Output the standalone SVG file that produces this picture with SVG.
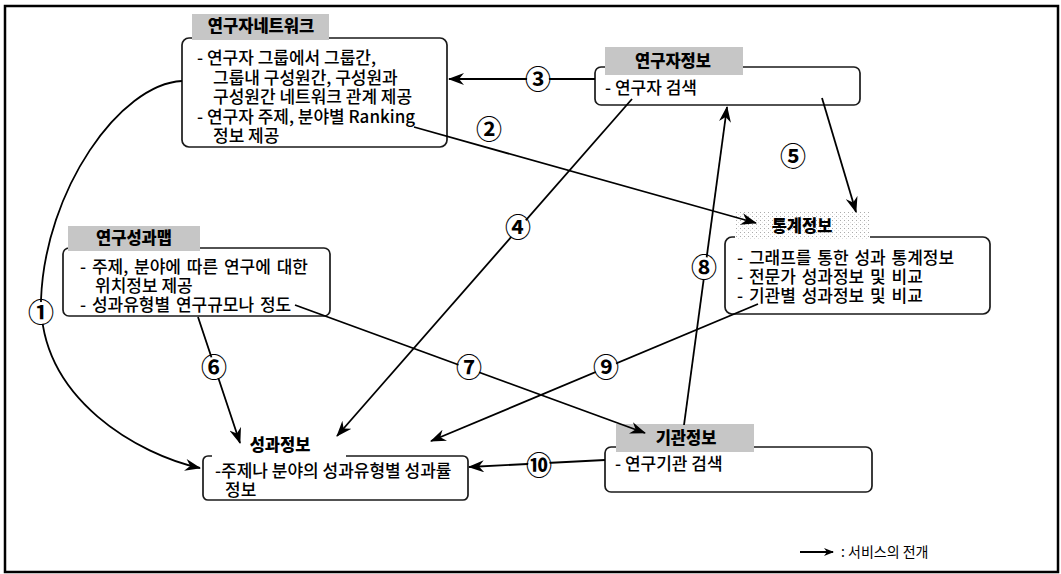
<svg xmlns="http://www.w3.org/2000/svg" width="1061" height="574" viewBox="0 0 1061 574">
<style>
.frame{fill:none;stroke:#000;stroke-width:2.5}
.box{fill:#fff;stroke:#1a1a1a;stroke-width:1.7}
.hdr{fill:#c6c6c6}
.hdr2{fill:url(#dots)}
.ht{font-family:"Noto Sans CJK KR","Noto Sans",sans-serif;font-size:16.5px;font-weight:900;text-anchor:middle;fill:#000}
.bt{font-family:"Noto Sans CJK KR","Noto Sans",sans-serif;font-size:17px;font-weight:500;fill:#000}
.lt{font-family:"Noto Sans CJK KR","Noto Sans",sans-serif;font-size:14px;fill:#000}
.con{fill:none;stroke:#000;stroke-width:1.8}
.cb{fill:#fff}
.num{font-family:"Noto Sans CJK KR","DejaVu Sans",sans-serif;font-size:26px;font-weight:bold;text-anchor:middle;fill:#000}
</style>
<defs>
<pattern id="dots" width="4" height="4" patternUnits="userSpaceOnUse"><rect width="4" height="4" fill="#fff"/><rect x="0" y="0" width="1" height="1" fill="#aaa"/><rect x="2" y="2" width="1" height="1" fill="#ddd"/></pattern>
<marker id="ah" viewBox="0 0 16 12" refX="15" refY="6" markerWidth="16" markerHeight="12" orient="auto" markerUnits="userSpaceOnUse"><path d="M0,0 L16,6 L0,12 L5,6 z" fill="#000"/></marker>
<marker id="ahs" viewBox="0 0 10 8" refX="9" refY="4" markerWidth="10" markerHeight="8" orient="auto" markerUnits="userSpaceOnUse"><path d="M0,0 L10,4 L0,8 L3,4 z" fill="#000"/></marker>
</defs>
<rect class="frame" x="5" y="6" width="1053" height="566"/>

<g id="node-network">
<rect class="box" x="182" y="38" width="265" height="109" rx="7"/>
<rect class="hdr" x="192" y="14" width="137" height="26"/>
<text class="ht" x="261" y="32">연구자네트워크</text>
<text class="bt" x="197" y="64">- 연구자 그룹에서 그룹간,</text>
<text class="bt" x="213" y="84">그룹내 구성원간, 구성원과</text>
<text class="bt" x="213" y="103">구성원간 네트워크 관계 제공</text>
<text class="bt" x="197" y="123">- 연구자 주제, 분야별 Ranking</text>
<text class="bt" x="213" y="142">정보 제공</text>
</g>

<g id="node-researcher">
<rect class="box" x="595" y="67" width="265" height="38" rx="6"/>
<rect class="hdr" x="605" y="47" width="138" height="28"/>
<text class="ht" x="673" y="67">연구자정보</text>
<text class="bt" x="605" y="94">- 연구자 검색</text>
</g>

<g id="node-stats">
<rect class="box" x="725" y="237" width="265" height="77" rx="7"/>
<rect class="hdr2" x="735" y="212" width="135" height="28"/>
<text class="ht" x="802" y="232">통계정보</text>
<text class="bt" x="737" y="264" word-spacing="2">- 그래프를 통한 성과 통계정보</text>
<text class="bt" x="737" y="283" word-spacing="2">- 전문가 성과정보 및 비교</text>
<text class="bt" x="737" y="302" word-spacing="2">- 기관별 성과정보 및 비교</text>
</g>

<g id="node-map">
<rect class="box" x="63" y="248" width="267" height="68" rx="6"/>
<rect class="hdr" x="68" y="226" width="132" height="25"/>
<text class="ht" x="134" y="244">연구성과맵</text>
<text class="bt" x="80" y="273" word-spacing="2">- 주제, 분야에 따른 연구에 대한</text>
<text class="bt" x="95" y="292">위치정보 제공</text>
<text class="bt" x="80" y="311" word-spacing="2">- 성과유형별 연구규모나 정도</text>
</g>

<g id="node-result">
<rect class="box" x="203" y="456" width="265" height="44" rx="5"/>
<rect fill="#fff" x="212" y="440" width="134" height="22"/>
<text class="ht" x="280" y="451">성과정보</text>
<text class="bt" x="215" y="477">-주제나 분야의 성과유형별 성과률</text>
<text class="bt" x="225" y="496">정보</text>
</g>

<g id="node-inst">
<rect class="box" x="605" y="447" width="267" height="45" rx="6"/>
<rect class="hdr" x="616" y="424" width="138" height="28"/>
<text class="ht" x="686" y="444">기관정보</text>
<text class="bt" x="615" y="470">- 연구기관 검색</text>
</g>

<g id="connectors">
<path class="con" marker-end="url(#ah)" d="M182,81 C120,84 45,190 41,300 C40,400 140,455 200,468"/>
<path class="con" marker-end="url(#ah)" d="M414,127 L756,223"/>
<path class="con" marker-end="url(#ah)" d="M595,79 L449,79"/>
<path class="con" marker-end="url(#ah)" d="M632,99 L337,436"/>
<path class="con" marker-end="url(#ah)" d="M822,98 L856,212"/>
<path class="con" marker-end="url(#ah)" d="M198,317 L240,443"/>
<path class="con" marker-end="url(#ah)" d="M295,305 L645,433"/>
<path class="con" marker-end="url(#ah)" d="M684,425 L727,107"/>
<path class="con" marker-end="url(#ah)" d="M758,304 L431,441"/>
<path class="con" marker-end="url(#ah)" d="M605,460 L469,467"/>
</g>

<g id="labels">
<circle class="cb" cx="41" cy="313" r="11"/><text class="num" x="41" y="322">①</text>
<circle class="cb" cx="489" cy="130" r="11"/><text class="num" x="489" y="139">②</text>
<circle class="cb" cx="538" cy="80" r="11"/><text class="num" x="538" y="89">③</text>
<circle class="cb" cx="518" cy="228" r="11"/><text class="num" x="518" y="237">④</text>
<circle class="cb" cx="793" cy="157" r="11"/><text class="num" x="793" y="166">⑤</text>
<circle class="cb" cx="214" cy="368" r="11"/><text class="num" x="214" y="377">⑥</text>
<circle class="cb" cx="469" cy="368" r="11"/><text class="num" x="469" y="377">⑦</text>
<circle class="cb" cx="704" cy="268" r="11"/><text class="num" x="704" y="277">⑧</text>
<circle class="cb" cx="606" cy="368" r="11"/><text class="num" x="606" y="377">⑨</text>
<circle class="cb" cx="539" cy="466" r="11"/><text class="num" x="539" y="475">⑩</text>
</g>

<g id="legend">
<path class="con" stroke-width="1.4" marker-end="url(#ahs)" d="M800,552 L833,552"/>
<text class="lt" x="841" y="557">: 서비스의 전개</text>
</g>
</svg>
